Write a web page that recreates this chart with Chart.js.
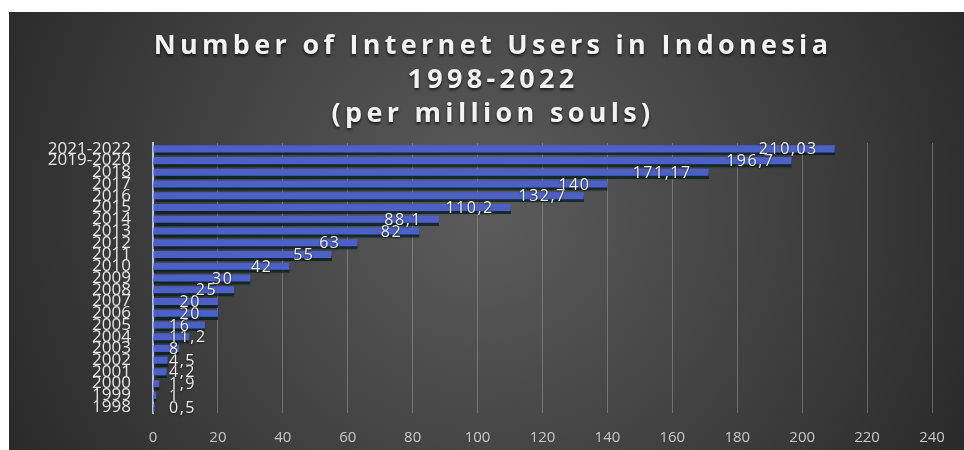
<!DOCTYPE html>
<html>
<head>
<meta charset="utf-8">
<script src="https://cdn.jsdelivr.net/npm/chart.js@4.4.1/dist/chart.umd.min.js"></script>
<style>
  html, body { margin: 0; padding: 0; background: #fff; }
  #wrap { position: absolute; left: 9px; top: 12px; width: 955px; height: 438px; }
</style>
</head>
<body>
<div id="wrap"><canvas id="users"></canvas></div>
<script>
// data (bottom to top in the original)
const years = ["1998", "1999", "2000", "2001", "2002", "2003", "2004", "2005", "2006", "2007",
  "2008", "2009", "2010", "2011", "2012", "2013", "2014", "2015", "2016", "2017", "2018",
  "2019-2020", "2021-2022"];
const users = [0.5, 1, 1.9, 4.2, 4.5, 8, 11.2, 16, 20, 20, 25, 30, 42, 55, 63, 82, 88.1,
  110.2, 132.7, 140, 171.17, 196.7, 210.03];
const xTicks = [0, 20, 40, 60, 80, 100, 120, 140, 160, 180, 200, 220, 240];
const titleLines = ["Number of Internet Users in Indonesia", "1998-2022", "(per million souls)"];

const FONT = "'Open Sans', 'DejaVu Sans', sans-serif";

// dark radial backdrop + title
const backdrop = {
  id: "backdrop",
  beforeDraw(chart) {
    const { ctx, width, height } = chart;
    const g = ctx.createRadialGradient(width * 0.5, height * 0.45, 20, width * 0.5, height * 0.45, width * 0.6);
    g.addColorStop(0, "#5a5a5a");
    g.addColorStop(0.55, "#3e3e3e");
    g.addColorStop(1, "#262626");
    ctx.save();
    ctx.fillStyle = g;
    ctx.fillRect(0, 0, width, height);

    ctx.fillStyle = "#f2f2f2";
    ctx.textAlign = "center";
    ctx.textBaseline = "middle";
    ctx.font = "bold 27px " + FONT;
    ctx.letterSpacing = "4.3px";
    ctx.shadowColor = "rgba(0,0,0,0.7)";
    ctx.shadowOffsetY = 2;
    ctx.shadowBlur = 3;
    titleLines.forEach((line, i) => {
      ctx.fillText(line, 484, 34 + i * 34);
    });
    ctx.restore();
  },
};

// value labels near the bar ends, comma decimals
const valueLabels = {
  id: "valueLabels",
  afterDatasetsDraw(chart) {
    const { ctx } = chart;
    const meta = chart.getDatasetMeta(0);
    ctx.save();
    ctx.font = "16px " + FONT;
    ctx.letterSpacing = "1.5px";
    ctx.fillStyle = "#f0f0f0";
    ctx.textBaseline = "middle";
    ctx.textAlign = "left";
    ctx.shadowColor = "rgba(0,0,0,0.6)";
    ctx.shadowOffsetY = 1;
    ctx.shadowBlur = 2;
    meta.data.forEach((bar, i) => {
      const txt = String(users[i]).replace(".", ",");
      const w = ctx.measureText(txt).width;
      let left = bar.x - 17 - w;
      if (left < 160) left = 160;
      ctx.fillText(txt, left, bar.y + 1);
    });
    ctx.restore();
  },
};

const barShadow = {
  id: "barShadow",
  beforeDatasetsDraw(chart) {
    const ctx = chart.ctx;
    ctx.save();
    ctx.shadowColor = "rgba(0,30,30,0.75)";
    ctx.shadowOffsetY = 3;
    ctx.shadowBlur = 1;
  },
  afterDatasetsDraw(chart) {
    chart.ctx.restore();
  },
};

new Chart(document.getElementById("users"), {
  type: "bar",
  data: {
    labels: years,
    datasets: [{
      data: users,
      backgroundColor: "#4c60c8",
      borderWidth: 0,
      barPercentage: 0.75,
      categoryPercentage: 0.8,
    }],
  },
  options: {
    indexAxis: "y",
    responsive: true,
    maintainAspectRatio: false,
    animation: false,
    layout: { padding: { top: 131, right: 32, bottom: 0, left: 0 } },
    plugins: {
      legend: { display: false },
      tooltip: { enabled: false },
      title: { display: false },
    },
    scales: {
      x: {
        min: 0,
        max: 240,
        afterBuildTicks(axis) {
          axis.ticks = xTicks.map((v) => ({ value: v }));
        },
        afterFit(axis) { axis.height = 37; },
        grid: { color: "rgba(170,170,170,0.45)", lineWidth: 1, drawTicks: false },
        border: { display: false },
        ticks: {
          color: "#c8c8c8",
          font: { family: FONT, size: 15 },
          padding: 16,
        },
      },
      y: {
        reverse: true,
        afterFit(axis) { axis.width = 144; },
        grid: { display: false },
        border: { display: true, color: "#b8c4e8", width: 2 },
        ticks: {
          autoSkip: false,
          color: "#e6e6e6",
          font: { family: FONT, size: 17 },
          padding: 14,
        },
      },
    },
  },
  plugins: [backdrop, barShadow, valueLabels],
});
</script>
</body>
</html>
